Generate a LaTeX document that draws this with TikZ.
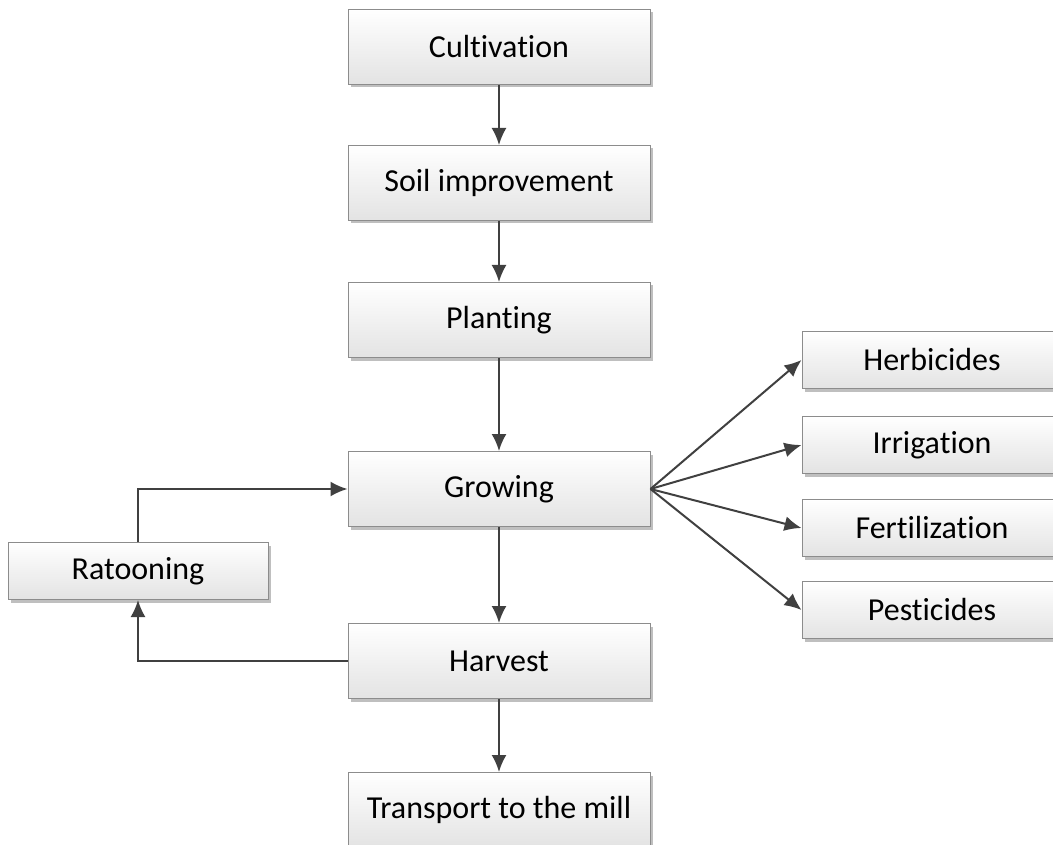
\documentclass[tikz,border=0pt]{standalone}
\usepackage{fontspec}
\setmainfont[Ligatures=NoCommon]{Carlito}
\usetikzlibrary{arrows.meta,shadows}

\definecolor{linegray}{HTML}{404040}
\definecolor{framegray}{HTML}{8C8C8C}

\tikzset{
  stage/.style={draw=framegray, line width=1pt, top color=white, bottom color=black!11,
    minimum width=302pt, minimum height=75pt, font=\fontsize{32}{36}\selectfont,
    drop shadow={shadow xshift=3pt, shadow yshift=-3pt, fill=black!25, opacity=1}},
  side/.style={stage, minimum width=260pt, minimum height=57pt},
  flow/.style={line width=2pt, draw=linegray, -{Latex[length=17pt,width=15pt]}}
}

\begin{document}
\begin{tikzpicture}[x=1pt,y=-1pt]

\useasboundingbox (0,0) rectangle (1053,845);
\clip (0,0) rectangle (1053,845);

\node[stage] (cult) at (499,47) {Cultivation};
\node[stage] (soil) at (499,183) {Soil improvement};
\node[stage] (plant) at (499,320) {Planting};
\node[stage] (grow) at (499,489) {Growing};
\node[stage] (harv) at (499,661) {Harvest};
\node[stage] (trans) at (499,810) {Transport to the mill};

\node[side] (rato) at (138,571) {Ratooning};

\node[side] (herb) at (932,360) {Herbicides};
\node[side] (irri) at (932,445) {Irrigation};
\node[side] (fert) at (932,528) {Fertilization};
\node[side] (pest) at (932,610) {Pesticides};

\draw[flow] (cult) -- (soil);
\draw[flow] (soil) -- (plant);
\draw[flow] (plant) -- (grow);
\draw[flow] (grow) -- (harv);
\draw[flow] (harv) -- (trans);

\draw[flow] (harv.west) -| (rato.south);
\draw[flow] (rato.north) |- (grow.west);

\draw[flow] (grow.east) -- (herb.west);
\draw[flow] (grow.east) -- (irri.west);
\draw[flow] (grow.east) -- (fert.west);
\draw[flow] (grow.east) -- (pest.west);

\end{tikzpicture}
\end{document}
